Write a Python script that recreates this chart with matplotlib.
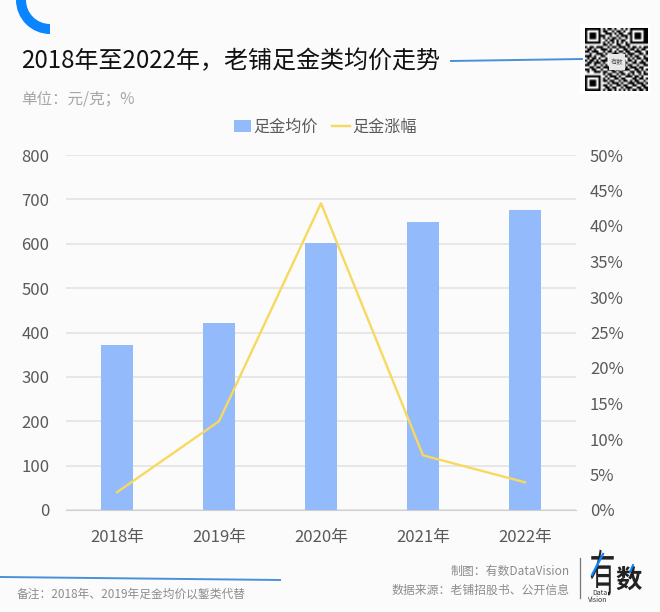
import matplotlib
matplotlib.use("Agg")
import matplotlib.pyplot as plt
import matplotlib.patheffects as pe
from matplotlib.transforms import Affine2D
import numpy as np
from matplotlib.patches import Wedge, Rectangle

plt.rcParams['font.family'] = ['Noto Sans CJK SC', 'DejaVu Sans']

years = ['2018年', '2019年', '2020年', '2021年', '2022年']
avg_price = [372, 421, 602, 650, 675]
growth = [2.5, 12.5, 43.2, 7.7, 3.9]
left_ticks = list(range(0, 801, 100))
right_ticks = list(range(0, 51, 5))
right_labels = [f'{v}%' for v in right_ticks]

qr_rows = [
 "1111111010110100101011111111",
 "1000001011001011010010000011",
 "1011101001110101100110111011",
 "1011101110010010111010111011",
 "1011101010101101001010111011",
 "1000001001011010110010000011",
 "1111111010101010101011111111",
 "0000000011010011001100000000",
 "1011011100101101110101101011",
 "0110100111010010011011010110",
 "1101110010110101101100111001",
 "0010011101001110010111001101",
 "1110100110000000011010110010",
 "0101101001000000100101011011",
 "1011010111000000110110100101",
 "0110111010000000101001101110",
 "1100100101000000010110010011",
 "0011011011100101101011101100",
 "1101100100111010011100110101",
 "0100111011001101100011011010",
 "0000000010110010110101001011",
 "1111111001011101001110110100",
 "1000001010100110110001101101",
 "1011101011011001011010110010",
 "1011101000101110100111011101",
 "1011101011010011011001100110",
 "1000001001101100101110011011",
 "1111111010110101010101101101",
]

W, H = 660, 612
BG = '#FBFBFB'
BLUE = '#0A84FF'
LINEBLUE = '#4A90D9'
BAR = '#93BAFB'
YEL = '#F8D95F'
GRID = '#E2E2E2'
TXT = '#595959'
GREY = '#A6A6A6'


class VStretch(pe.AbstractPathEffect):
    """Stretch a text's glyphs vertically about a display-space y."""
    def __init__(self, factor, y0):
        super().__init__()
        self.factor, self.y0 = factor, y0

    def draw_path(self, renderer, gc, tpath, affine, rgbFace=None):
        t = affine + Affine2D().translate(0, -self.y0).scale(1, self.factor).translate(0, self.y0)
        renderer.draw_path(gc, tpath, t, rgbFace)


fig = plt.figure(figsize=(W/100, H/100), dpi=100, facecolor=BG)

# overlay in pixel coordinates
ov = fig.add_axes([0, 0, 1, 1], zorder=0)
ov.set_xlim(0, W); ov.set_ylim(H, 0); ov.axis('off')

# main axes
L, R, T, B = 66, 576, 155, 510
ax = fig.add_axes([L/W, 1-B/H, (R-L)/W, (B-T)/H], zorder=2)
ax.patch.set_alpha(0)
x = np.arange(len(years))
bars = ax.bar(x, avg_price, width=0.32, color=BAR, zorder=3, label='足金均价')
ax.set_xlim(-0.5, 4.5)
ax.set_ylim(0, 800)
ax.set_yticks(left_ticks)
ax.set_xticks(x, years)
ax.grid(axis='y', color=GRID, lw=1.1, zorder=0)
ax.set_axisbelow(True)
for s in ['top', 'left', 'right']:
    ax.spines[s].set_visible(False)
ax.spines['bottom'].set_color('#CFCFCF')
ax.tick_params(axis='both', length=0, labelsize=12, labelcolor=TXT)
ax.tick_params(axis='x', pad=14)
ax.tick_params(axis='y', pad=12)

ax2 = ax.twinx()
ax2.patch.set_alpha(0)
line, = ax2.plot(x, growth, color=YEL, lw=1.7, zorder=4, label='足金涨幅')
ax2.set_ylim(0, 50)
ax2.set_yticks(right_ticks, right_labels)
for s in ax2.spines.values():
    s.set_visible(False)
ax2.tick_params(axis='y', length=0, labelsize=12, labelcolor=TXT, pad=10)

leg = fig.legend(handles=[bars, line], labels=['足金均价', '足金涨幅'], ncol=2, frameon=False,
                 loc='center', bbox_to_anchor=(325/W, 1-127/H), fontsize=11.6,
                 labelcolor=TXT, handlelength=1.1, handleheight=0.7, handletextpad=0.15,
                 columnspacing=0.85)

# decorations
ov.add_patch(Wedge((50, 0), 34, 90, 180, width=10, color=BLUE, lw=0))
ov.plot([451, 582], [61, 59], color=LINEBLUE, lw=1.4)
ov.plot([0, 280], [577, 580], color=LINEBLUE, lw=1.4)
ov.text(21, 61, '2018年至2022年，老铺足金类均价走势', fontsize=17.3, color='#111111', va='center', ha='left')
ov.text(21, 99, '单位：元/克；%', fontsize=11.2, color=GREY, va='center', ha='left')
ov.text(17, 594, '备注：2018年、2019年足金均价以錾类代替', fontsize=8.45, color='#8C8C8C', va='center', ha='left')
ov.text(570, 571, '制图：有数DataVision', fontsize=8.55, color='#8C8C8C', va='center', ha='right')
ov.text(570, 590, '数据来源：老铺招股书、公开信息', fontsize=8.55, color='#8C8C8C', va='center', ha='right')

# logo
ov.plot([580, 580], [558, 598], color='#777777', lw=0.9)
you = ov.text(602.5, 575, '有', fontsize=18.5, color='#222222', va='center', ha='center',
              path_effects=[VStretch(1.95, 40.16)])
ov.text(629, 580, '数', fontsize=19, color='#222222', va='center', ha='center', fontweight='bold')
ov.plot([592, 603], [575, 554], color=BLUE, lw=1.6, zorder=5)
ov.plot([630, 633], [572, 565], color=BLUE, lw=1.4, zorder=5)
ov.text(607, 593, 'Data', fontsize=5, color='#333333', va='center', ha='right', zorder=6,
        bbox=dict(facecolor=BG, edgecolor='none', pad=0.6))
ov.text(607, 599.5, 'Vision', fontsize=5, color='#333333', va='center', ha='right', zorder=6,
        bbox=dict(facecolor=BG, edgecolor='none', pad=0.6))

# QR code
qr = np.array([[int(c) for c in row] for row in qr_rows])
ov.add_patch(Rectangle((580, 24), 70, 70, color='white', lw=0))
ov.imshow(1-qr, cmap='gray', vmin=0, vmax=1, extent=(585, 648, 91, 28), aspect='auto',
          interpolation='bilinear', zorder=2)
ov.add_patch(Rectangle((609, 54), 16, 16, color='#E8E8E8', lw=0, zorder=3))
ov.text(617, 62, '有数', fontsize=4.5, color='#555555', va='center', ha='center', zorder=4)
ov.set_xlim(0, W); ov.set_ylim(H, 0)

fig.savefig('out.png', dpi=100, facecolor=BG)
